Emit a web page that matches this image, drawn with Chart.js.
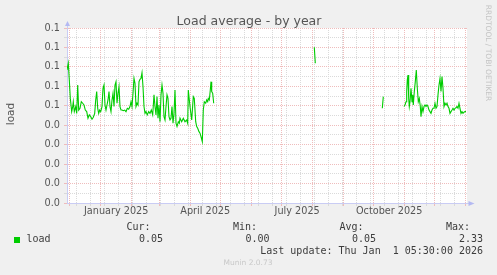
<!DOCTYPE html>
<html><head><meta charset="utf-8">
<script src="https://cdn.jsdelivr.net/npm/chart.js@4.4.1/dist/chart.umd.min.js"></script>
<style>html,body{margin:0;padding:0;background:#f0f0f0;overflow:hidden}canvas{display:block}</style>
</head><body><canvas id="c" width="497" height="275"></canvas>
<script>
// ---- data (x = days since 2025-01-01, y = load) ----
const days = [
 -33.7,-32.4,-31.4,-30.4,-29.0,-28.0,-27.4,-26.4,-25.0,-24.0,
 -23.0,-22.0,-20.7,-19.4,-18.0,-16.7,-15.4,-14.0,-12.7,-11.4,
 -10.0,-8.7,-7.4,-6.0,-5.0,-4.0,-3.0,-2.0,-1.0,0.0,
 1.3,2.3,3.3,4.3,5.3,6.3,7.3,8.3,9.3,10.3,
 11.3,12.3,13.3,14.3,15.3,16.3,17.3,18.3,19.3,20.3,
 21.3,22.6,24.0,25.3,26.6,28.0,29.3,30.3,31.3,32.3,
 33.3,34.3,35.3,36.3,37.3,38.3,39.3,40.3,41.3,42.3,
 43.3,44.3,45.3,46.6,48.0,49.3,50.6,52.0,53.3,54.3,
 55.3,56.3,57.3,58.3,59.3,60.3,61.3,62.3,63.3,64.3,
 65.3,66.3,67.3,68.3,69.3,70.3,71.3,72.3,73.3,74.3,
 75.3,76.3,77.6,78.6,
 79.3,81.0,82.6,84.3,86.0,87.0,87.6,89.3,91.0,92.6,
 93.6,95.0,96.0,97.0,98.3,99.3,100.3,101.6,102.6,103.6,
 105.0,106.0,107.0,107.6,108.6,109.6,110.3,111.0,112.0,113.0,
 160,
 213.6,214.6,
 250,
 281.6,282.6,
 295,
 303.3,304.3,305.3,306.0,306.6,307.3,308.0,308.6,309.3,310.3,
 311.3,312.0,312.6,313.6,314.6,315.6,316.6,317.6,318.6,319.6,
 320.3,321.3,322.3,323.3,324.3,325.3,326.3,327.3,328.3,329.3,
 330.3,331.3,332.3,333.3,334.3,335.3,336.3,337.3,338.3,339.3,
 340.3,341.3,342.3,343.3,344.3,345.3,346.3,347.3,348.3,349.3,
 350.3,351.3,352.3,353.3,354.3,355.3,356.3,357.3,358.3,359.3,
 360.3,361.3,362.3,363.3,364.3,365.3
];
const load = [
 0.0684,0.0719,0.0633,0.0538,0.0470,0.0496,0.0521,0.0470,0.0496,0.0461,
 0.0607,0.0478,0.0487,0.0521,0.0513,0.0504,0.0478,0.0470,0.0436,0.0453,
 0.0444,0.0431,0.0441,0.0461,0.0530,0.0573,0.0487,0.0461,0.0478,0.0470,
 0.0496,0.0590,0.0607,0.0504,0.0478,0.0504,0.0530,0.0573,0.0496,0.0470,
 0.0530,0.0564,0.0496,0.0607,0.0624,0.0513,0.0564,0.0598,0.0496,0.0478,
 0.0478,0.0475,0.0478,0.0470,0.0487,0.0482,0.0496,0.0521,0.0496,0.0564,
 0.0641,0.0616,0.0496,0.0513,0.0504,0.0624,0.0636,0.0641,0.0670,0.0598,
 0.0496,0.0461,0.0470,0.0453,0.0470,0.0461,0.0478,0.0453,0.0556,0.0496,
 0.0453,0.0547,0.0436,0.0504,0.0418,0.0556,0.0607,0.0564,0.0444,0.0427,
 0.0496,0.0556,0.0538,0.0444,0.0427,0.0436,0.0496,0.0410,0.0461,0.0581,
 0.0410,0.0393,0.0418,0.0410,
 0.0436,0.0418,0.0436,0.0418,0.0427,0.0410,0.0581,0.0496,0.0427,0.0547,
 0.0538,0.0418,0.0393,0.0384,0.0367,0.0359,0.0341,0.0315,0.0478,0.0521,
 0.0513,0.0530,0.0521,0.0538,0.0530,0.0581,0.0624,0.0573,0.0564,0.0513,
 null,
 0.0801,0.0719,
 null,
 0.0487,0.0547,
 null,
 0.0496,0.0504,0.0521,0.0573,0.0633,0.0658,0.0538,0.0496,0.0521,0.0590,
 0.0521,0.0556,0.0504,0.0573,0.0624,0.0684,0.0590,0.0521,0.0538,0.0496,
 0.0444,0.0496,0.0470,0.0496,0.0504,0.0496,0.0504,0.0496,0.0478,0.0470,
 0.0461,0.0478,0.0487,0.0487,0.0513,0.0487,0.0496,0.0556,0.0607,0.0641,
 0.0573,0.0650,0.0590,0.0496,0.0513,0.0504,0.0513,0.0496,0.0487,0.0461,
 0.0470,0.0478,0.0487,0.0478,0.0487,0.0490,0.0496,0.0487,0.0513,0.0487,
 0.0461,0.0470,0.0461,0.0467,0.0470,0.0470
];
const xRange = [-33.7, 366.3];
const monthStartDays = [-31,0,31,59,90,120,151,181,212,243,273,304,334,365];
const minorGridDays = [-24,-10,4,18,32,46,60,74,88,102,116,130,144,158,172,186,200,214,228,242,256,270,284,298,312,326,340,354];
const xLabelDays = [15.5,104.5,196.5,288.5];
const xTickLabels = ['January 2025','April 2025','July 2025','October 2025'];
const yMajorTicks = [0,0.01,0.02,0.03,0.04,0.05,0.06,0.07,0.08,0.09];
const yTickLabels = ['0.0','0.0','0.0','0.0','0.0','0.1','0.1','0.1','0.1','0.1'];
const yMinorTicks = [0.005,0.015,0.025,0.035,0.045,0.055,0.065,0.075,0.085];
const seriesName = 'load';
const statNames = ['Cur:','Min:','Avg:','Max:'];
const statValues = ['0.05','0.00','0.05','2.33'];
const titleText = 'Load average - by year';
const lastUpdate = 'Last update: Thu Jan  1 05:30:00 2026';

// ---- styles ----
const MAJOR = '#efbcbc', MINOR = '#dadada', AXIS = '#c9ccf4', ARROW = '#b4b9f2';
const TXT = '#555555', LEG = '#3c3c3c', GREEN = '#00cc00';
const SANS = '"DejaVu Sans", sans-serif', MONO = '"DejaVu Sans Mono", monospace';

const points = days.map((d,i)=>({x:d,y:load[i]}));

const deco = {
  id:'deco',
  beforeDraw(chart){
    const {ctx, chartArea:a} = chart;
    ctx.save();
    ctx.fillStyle='#f0f0f0'; ctx.fillRect(0,0,chart.width,chart.height);
    ctx.fillStyle='#ffffff'; ctx.fillRect(a.left,a.top,a.right-a.left,a.bottom-a.top);
    ctx.restore();
  },
  afterDraw(chart){
    const {ctx, chartArea:a} = chart;
    ctx.save();
    // arrows
    ctx.strokeStyle=AXIS; ctx.lineWidth=1;
    ctx.beginPath(); ctx.moveTo(a.right, a.bottom+0.5); ctx.lineTo(a.right+4, a.bottom+0.5); ctx.stroke();
    ctx.beginPath(); ctx.moveTo(a.left+0.5, a.top); ctx.lineTo(a.left+0.5, a.top-3); ctx.stroke();
    ctx.fillStyle=ARROW;
    ctx.beginPath(); ctx.moveTo(a.right+1.5, a.bottom-2); ctx.lineTo(a.right+7.5, a.bottom+0.5); ctx.lineTo(a.right+1.5, a.bottom+3); ctx.closePath(); ctx.fill();
    ctx.beginPath(); ctx.moveTo(a.left-2, a.top-2); ctx.lineTo(a.left+0.5, a.top-7); ctx.lineTo(a.left+3, a.top-2); ctx.closePath(); ctx.fill();
    // title
    ctx.fillStyle=TXT; ctx.font='12.5px '+SANS; ctx.textAlign='center'; ctx.textBaseline='alphabetic';
    ctx.fillText(titleText, 249, 24.5);
    // y title
    ctx.save(); ctx.translate(11,114); ctx.rotate(-Math.PI/2);
    ctx.font='10.5px '+SANS; ctx.textBaseline='middle'; ctx.fillText(seriesName,0,0); ctx.restore();
    // watermark
    ctx.save(); ctx.translate(488,53); ctx.rotate(Math.PI/2);
    ctx.fillStyle='#c4c4c4'; ctx.font='7.5px '+SANS; ctx.textBaseline='middle'; ctx.textAlign='center';
    ctx.fillText('RRDTOOL / TOBI OETIKER',0,0); ctx.restore();
    // legend
    ctx.font='10px '+MONO; ctx.fillStyle=LEG; ctx.textBaseline='middle'; ctx.textAlign='right';
    const hdrRight=[150.5,257,363.5,470], valRight=[163,269.5,376,483];
    statNames.forEach((s,i)=>ctx.fillText(s,hdrRight[i],227.5));
    statValues.forEach((s,i)=>ctx.fillText(s,valRight[i],239.5));
    ctx.fillText(lastUpdate,483,251.8);
    ctx.textAlign='left'; ctx.fillText(seriesName,26.5,239.5);
    ctx.fillStyle=GREEN; ctx.fillRect(14,237,6,6);
    ctx.fillStyle='#c8c8c8'; ctx.font='7.5px '+SANS; ctx.textAlign='center';
    ctx.fillText('Munin 2.0.73',248,263.5);
    ctx.restore();
  }
};

new Chart(document.getElementById('c'),{
  type:'line',
  data:{datasets:[{data:points,borderColor:GREEN,borderWidth:1.1,pointRadius:0,tension:0,spanGaps:false,fill:false}]},
  options:{
    responsive:false, animation:false, devicePixelRatio:1,
    layout:{padding:{top:28,right:30,left:0,bottom:0}},
    plugins:{legend:{display:false},tooltip:{enabled:false},title:{display:false}},
    scales:{
      x:{
        type:'linear', min:xRange[0], max:xRange[1],
        afterFit(s){ s.height = 72; },
        afterBuildTicks(s){
          const t=[];
          monthStartDays.forEach(v=>t.push({value:v,kind:'major'}));
          minorGridDays.forEach(v=>t.push({value:v,kind:'minor'}));
          xLabelDays.forEach((v,i)=>t.push({value:v,kind:'label',idx:i}));
          t.sort((p,q)=>p.value-q.value);
          s.ticks=t;
        },
        ticks:{autoSkip:false,maxRotation:0,minRotation:0,padding:0,color:TXT,font:{family:SANS,size:9.7},
          callback(v,i,ticks){ const t=ticks[i]; return t.kind==='label'?xTickLabels[t.idx]:''; }},
        grid:{
          color(c){ const t=c.tick; if(!t) return 'rgba(0,0,0,0)'; return t.kind==='major'?MAJOR:(t.kind==='minor'?MINOR:'rgba(0,0,0,0)'); },
          tickColor(c){ const t=c.tick; if(!t) return 'rgba(0,0,0,0)'; return t.kind==='major'?MAJOR:(t.kind==='minor'?MINOR:'rgba(0,0,0,0)'); },
          tickLength:3, lineWidth:1, tickBorderDash:[]
        },
        border:{display:true,color:AXIS,width:1,dash:[1,1]}
      },
      y:{
        min:0, max:0.09,
        afterFit(s){ s.width = 67; },
        afterBuildTicks(s){
          const t=[];
          yMajorTicks.forEach((v,i)=>t.push({value:v,kind:'major',idx:i}));
          yMinorTicks.forEach(v=>t.push({value:v,kind:'minor'}));
          t.sort((p,q)=>p.value-q.value);
          s.ticks=t;
        },
        ticks:{autoSkip:false,padding:4,color:TXT,font:{family:SANS,size:9.7},
          callback(v,i,ticks){ const t=ticks[i]; return t.kind==='major'?yTickLabels[t.idx]:''; }},
        grid:{
          color(c){ const t=c.tick; if(!t) return 'rgba(0,0,0,0)'; return t.kind==='major'?MAJOR:MINOR; },
          tickLength:3, lineWidth:1, tickBorderDash:[]
        },
        border:{display:true,color:AXIS,width:1,dash:[1,1]}
      }
    }
  },
  plugins:[deco]
});
</script></body></html>
